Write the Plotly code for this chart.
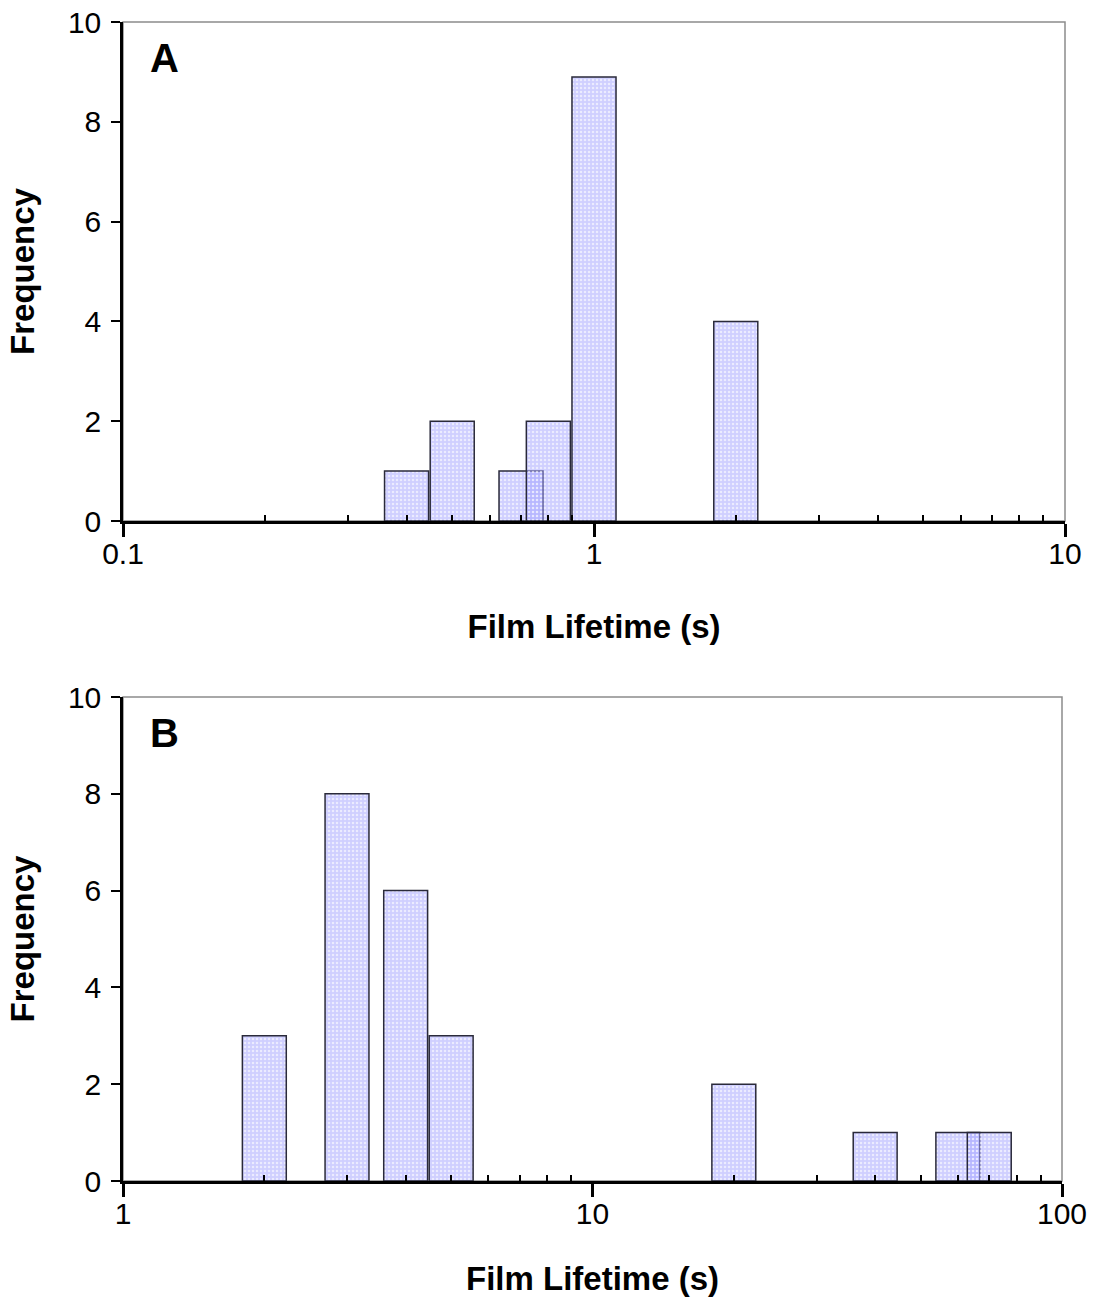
import plotly.graph_objects as go

# Panel A: film lifetimes (s) and counts
lifetime_a = [0.4, 0.5, 0.7, 0.8, 1.0, 2.0]
freq_a = [1, 2, 1, 2, 8.9, 4]

# Panel B: film lifetimes (s) and counts
lifetime_b = [2, 3, 4, 5, 20, 40, 60, 70]
freq_b = [3, 8, 6, 3, 2, 1, 1, 1]

yticks = [0, 2, 4, 6, 8, 10]
xticks_a = [0.1, 1, 10]
xticks_b = [1, 10, 100]
minor_a = [0.2, 0.3, 0.4, 0.5, 0.6, 0.7, 0.8, 0.9, 2, 3, 4, 5, 6, 7, 8, 9]
minor_b = [2, 3, 4, 5, 6, 7, 8, 9, 20, 30, 40, 50, 60, 70, 80, 90]

W, H = 1096, 1297
FONT = "Liberation Sans, Arial, sans-serif"
BAR_DECADES = 0.0935  # constant bar width on the log axis, in decades

fig = go.Figure()

def add_bars(x, y, xa, ya):
    # log axis: bar widths/offsets are in data units, so derive them from a
    # fixed width in log space to get equal-looking bars
    half = 10 ** (BAR_DECADES / 2)
    left = [v / half for v in x]
    right = [v * half for v in x]
    fig.add_trace(go.Bar(
        x=x, y=y, xaxis=xa, yaxis=ya,
        width=[r - l for l, r in zip(left, right)],
        offset=[l - v for l, v in zip(left, x)],
        marker=dict(
            color="rgba(160,160,255,0.5)",
            line=dict(color="#2a2a3a", width=1.5),
            pattern=dict(shape=".", fillmode="overlay", fgcolor="white",
                         fgopacity=0.6, size=4, solidity=0.3),
        ),
        showlegend=False, hoverinfo="x+y",
    ))

add_bars(lifetime_a, freq_a, "x", "y")
add_bars(lifetime_b, freq_b, "x2", "y2")

def px_x(v):
    return v / W

def px_y(v):
    return 1 - v / H

xdom_a = [px_x(123), px_x(1065)]
xdom_b = [px_x(123), px_x(1062)]
ydom_a = [px_y(521), px_y(22)]
ydom_b = [px_y(1181), px_y(697)]

tickfont = dict(family=FONT, size=30, color="black")
titlefont = dict(family=FONT, size=33, color="black", weight="bold")

def xaxis(dom, rng, tv, minor, anchor):
    return dict(
        domain=dom, type="log", range=rng, anchor=anchor, automargin=False,
        tickmode="array", tickvals=tv, ticktext=[str(t) for t in tv],
        ticks="outside", ticklen=13, tickwidth=2.5, tickcolor="black",
        ticklabelstandoff=-9,
        showline=True, linecolor="black", linewidth=3,
        showgrid=False, zeroline=False, tickfont=tickfont,
        minor=dict(tickmode="array", tickvals=minor, ticks="inside",
                   ticklen=6, tickwidth=2, tickcolor="black", showgrid=False),
        title=dict(text="Film Lifetime (s)", font=titlefont, standoff=46),
    )

def yaxis(dom, anchor):
    return dict(
        domain=dom, range=[0, 10], anchor=anchor, automargin=False,
        tickmode="array", tickvals=yticks,
        ticks="outside", ticklen=9, tickwidth=2, tickcolor="black",
        ticklabelstandoff=4,
        showline=True, linecolor="black", linewidth=2.5,
        showgrid=False, zeroline=False, tickfont=tickfont,
        title=dict(text="Frequency", font=titlefont, standoff=24),
    )

fig.update_layout(
    width=W, height=H,
    margin=dict(l=0, r=0, t=0, b=0),
    paper_bgcolor="white", plot_bgcolor="white",
    xaxis=xaxis(xdom_a, [-1, 1], xticks_a, minor_a, "y"),
    yaxis=yaxis(ydom_a, "x"),
    xaxis2=xaxis(xdom_b, [0, 2], xticks_b, minor_b, "y2"),
    yaxis2=yaxis(ydom_b, "x2"),
    barmode="overlay",
    shapes=[
        dict(type="rect", xref="x domain", yref="y domain", x0=0, x1=1, y0=0, y1=1,
             line=dict(color="#8c8c8c", width=1.5), layer="below"),
        dict(type="rect", xref="x2 domain", yref="y2 domain", x0=0, x1=1, y0=0, y1=1,
             line=dict(color="#8c8c8c", width=1.5), layer="below"),
    ],
    annotations=[
        dict(text="<b>A</b>", xref="paper", yref="paper", x=px_x(148), y=px_y(58),
             xanchor="left", yanchor="middle", showarrow=False,
             font=dict(family=FONT, size=40, color="black")),
        dict(text="<b>B</b>", xref="paper", yref="paper", x=px_x(148), y=px_y(733),
             xanchor="left", yanchor="middle", showarrow=False,
             font=dict(family=FONT, size=40, color="black")),
    ],
)

fig.write_html("out.html")
